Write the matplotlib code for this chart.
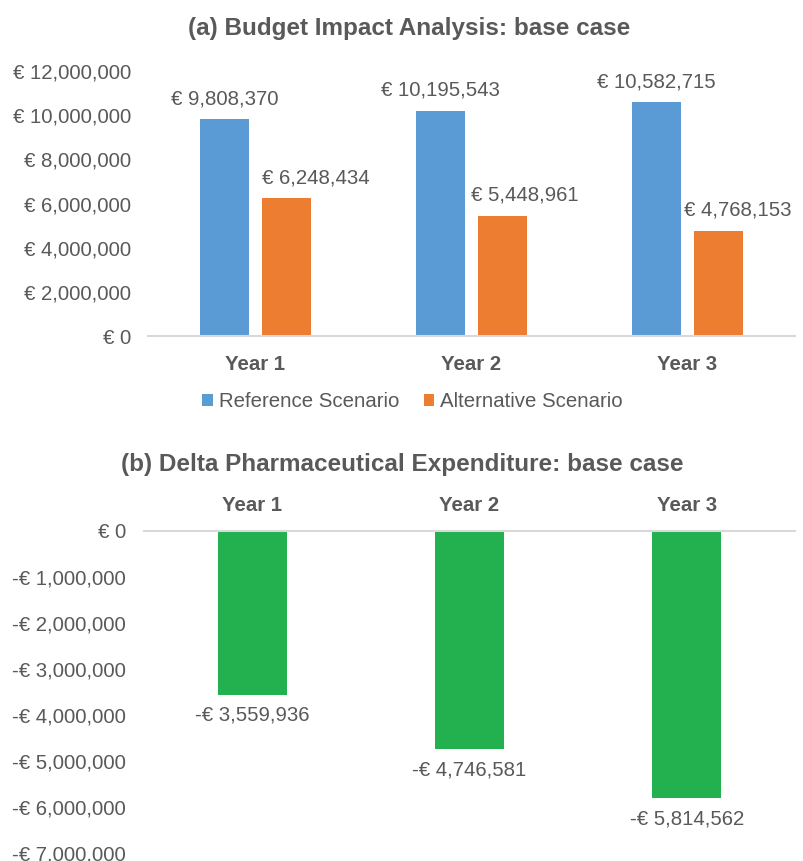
import matplotlib
matplotlib.use("Agg")
import matplotlib.pyplot as plt
from matplotlib.ticker import FuncFormatter
import numpy as np

plt.rcParams['font.family'] = ['Liberation Sans', 'DejaVu Sans']

years = ["Year 1", "Year 2", "Year 3"]
reference = [9808370, 10195543, 10582715]
alternative = [6248434, 5448961, 4768153]
delta = [-3559936, -4746581, -5814562]
series_names = ["Reference Scenario", "Alternative Scenario"]

BLUE = "#5B9BD5"
ORANGE = "#ED7D31"
GREEN = "#23B04E"
TXT = "#595959"
AX = "#D9D9D9"
FS = 14.7
W, H = 804, 861

# horizontal nudges (px) of the alternative-scenario data labels, as in the reference
alt_label_dx = [29, 22, 19]

def euro(v, pos=None):
    v = int(round(v))
    if v < 0:
        return "-€ {:,}".format(-v)
    return "€ {:,}".format(v)

def px_axes(left, right, top, bottom):
    return [left / W, 1 - bottom / H, (right - left) / W, (bottom - top) / H]

fig = plt.figure(figsize=(W / 100, H / 100), dpi=100)

# ---- (a)
ax1 = fig.add_axes(px_axes(147.5, 795.5, 71, 336))
x = np.arange(len(years))
w = 0.227
off = 0.1435
b1 = ax1.bar(x - off, reference, w, color=BLUE, label=series_names[0])
b2 = ax1.bar(x + off, alternative, w, color=ORANGE, label=series_names[1])
ax1.set_xlim(-0.5, 2.5)
ax1.set_ylim(0, 12000000)
ax1.set_yticks(np.arange(0, 12000001, 2000000))
ax1.yaxis.set_major_formatter(FuncFormatter(euro))
ax1.set_xticks(x)
ax1.set_xticklabels(years, fontweight="bold", fontsize=FS, color=TXT)
for s in ["top", "right", "left"]:
    ax1.spines[s].set_visible(False)
ax1.spines["bottom"].set_color(AX)
ax1.spines["bottom"].set_linewidth(1.5)
ax1.tick_params(axis="y", length=0, labelsize=FS, labelcolor=TXT, pad=12)
ax1.tick_params(axis="x", length=0, pad=14)
for r, v in zip(b1, reference):
    ax1.annotate(euro(v), (r.get_x() + r.get_width() / 2, v),
                 xytext=(0, 10.8), textcoords="offset points",
                 ha="center", va="baseline", fontsize=FS, color=TXT)
for r, v, dx in zip(b2, alternative, alt_label_dx):
    ax1.annotate(euro(v), (r.get_x() + r.get_width() / 2, v),
                 xytext=(dx * 0.72, 10.8), textcoords="offset points",
                 ha="center", va="baseline", fontsize=FS, color=TXT)
fig.text(409 / W, 1 - 28 / H, "(a) Budget Impact Analysis: base case",
         ha="center", va="center", fontsize=17.5, fontweight="bold", color=TXT)
leg = ax1.legend(loc="center", bbox_to_anchor=(412.5 / W, 1 - 402 / H),
                 bbox_transform=fig.transFigure, ncol=2, frameon=False,
                 fontsize=FS, handlelength=0.5, handleheight=0.5,
                 handletextpad=0.3, columnspacing=1.2, borderpad=0)
for t in leg.get_texts():
    t.set_color(TXT)

# ---- (b)
ax2 = fig.add_axes(px_axes(143.5, 795.5, 531, 853))
bw = 0.317
b3 = ax2.bar(x, delta, bw, color=GREEN)
ax2.set_xlim(-0.5, 2.5)
ax2.set_ylim(-7000000, 0)
ax2.set_yticks(np.arange(-7000000, 1, 1000000))
ax2.yaxis.set_major_formatter(FuncFormatter(euro))
ax2.xaxis.set_ticks_position("top")
ax2.set_xticks(x)
ax2.set_xticklabels(years, fontsize=FS, fontweight="bold", color=TXT)
for s in ["bottom", "right", "left"]:
    ax2.spines[s].set_visible(False)
ax2.spines["top"].set_color(AX)
ax2.spines["top"].set_linewidth(1.5)
ax2.tick_params(axis="y", length=0, labelsize=FS, labelcolor=TXT, pad=12.5)
ax2.tick_params(axis="x", length=0, pad=11.5)
for r, v in zip(b3, delta):
    ax2.annotate(euro(v), (r.get_x() + r.get_width() / 2, v),
                 xytext=(0, -8), textcoords="offset points",
                 ha="center", va="top", fontsize=FS, color=TXT)
fig.text(402 / W, 1 - 465 / H, "(b) Delta Pharmaceutical Expenditure: base case",
         ha="center", va="center", fontsize=17.5, fontweight="bold", color=TXT)

fig.savefig("out.png", dpi=100)
